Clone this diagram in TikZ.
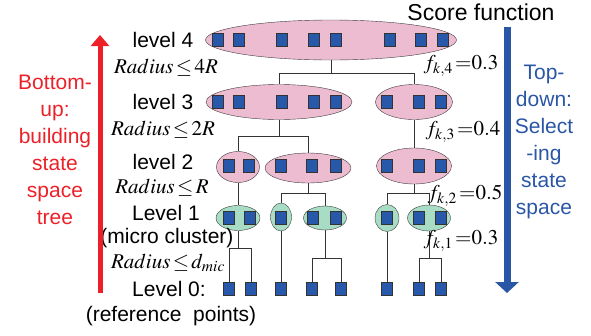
\documentclass[tikz,border=0pt]{standalone}
\usepackage{mathptmx}
\usepackage[no-math]{fontspec}
\setmainfont{Liberation Sans}
\usetikzlibrary{shapes.geometric,patterns,arrows.meta,positioning}

\definecolor{clpink}{RGB}{248,180,192}
\definecolor{clhatch}{RGB}{228,196,224}
\definecolor{clgreen}{RGB}{168,220,196}
\definecolor{ptblue}{RGB}{40,88,170}
\definecolor{upred}{RGB}{237,32,40}
\definecolor{downblue}{RGB}{42,86,166}

\tikzset{
  cluster/.style={ellipse, draw=black!75, inner sep=0pt, preaction={fill=clpink},
    pattern=crosshatch, pattern color=clhatch},
  micro/.style={ellipse, draw=black!75, fill=clgreen, inner sep=0pt},
  datapt/.style={rectangle, draw=black!80, fill=ptblue, minimum width=11pt,
    minimum height=13pt, inner sep=0pt},
  lvl/.style={font=\fontsize{21}{27}\selectfont, inner sep=1pt},
  rad/.style={font=\fontsize{21}{24}\selectfont, inner sep=1pt},
  tree/.style={draw=black!80, line width=0.6pt},
}

\begin{document}
\begin{tikzpicture}[x=1pt, y=-1pt]
  \useasboundingbox (0,0) rectangle (591,335);

  % clusters, level 4 down to level 1
  \node[cluster, minimum width=251pt, minimum height=40pt] (L4) at (331,40) {};
  \node[cluster, minimum width=146pt, minimum height=35pt] (L3a) at (279,102) {};
  \node[cluster, minimum width=77pt, minimum height=35pt] (L3b) at (414,102) {};
  \node[cluster, minimum width=43pt, minimum height=31pt] (L2a) at (238,167) {};
  \node[cluster, minimum width=86pt, minimum height=30pt] (L2b) at (308,168) {};
  \node[cluster, minimum width=75pt, minimum height=36pt] (L2c) at (414,166) {};
  \node[micro, minimum width=44pt, minimum height=25pt] (L1a) at (238,218) {};
  \node[micro, minimum width=21pt, minimum height=28pt] (L1b) at (281,217) {};
  \node[micro, minimum width=43pt, minimum height=24pt] (L1c) at (325,218) {};
  \node[micro, minimum width=24pt, minimum height=27pt] (L1d) at (387,218) {};
  \node[micro, minimum width=43pt, minimum height=26pt] (L1e) at (429,218) {};

  % points inside the clusters
  \foreach \x in {218,239,282,314,336,390,421,443}
    \node[datapt] (s4-\x) at (\x,40) {};
  \foreach \x in {218,239,282,314,336,387,419,441}
    \node[datapt] (s3-\x) at (\x,102) {};
  \foreach \x in {229,249,281,312,336,387,419,441}
    \node[datapt] (s2-\x) at (\x,166) {};
  \foreach \x in {229,250,281,313,336,387,419,441}
    \node[datapt] (s1-\x) at (\x,218) {};
  \foreach \x [count=\i] in {229,251,281,312,341,387,419,441}
    \node[datapt] (p\i) at (\x,289) {};

  % tree
  \draw[tree] (L4.south) -- ++(0,13) coordinate (j4) -| (L3a.north) (j4) -| (L3b.north);
  \draw[tree] (L3a.south) -- ++(0,17) coordinate (j3) -| (L2a.north) (j3) -| (L2b.north);
  \draw[tree] (L3b.south) -- (L2c.north);
  \draw[tree] (L2a.south) -- (L1a.north);
  \draw[tree] (L2b.south) -- ++(0,10) coordinate (j2b) -| (L1b.north) (j2b) -| (L1c.north);
  \draw[tree] (L2c.south) -- ++(0,9) coordinate (j2c) -| (L1d.north) (j2c) -| (L1e.north);
  \draw[tree] (L1a.south) -- ++(0,18) coordinate (j1a) -| (p1.north) (j1a) -| (p2.north);
  \draw[tree] (L1b.south) -- (p3.north);
  \draw[tree] (L1c.south) -- ++(0,28) coordinate (j1c) -| (p4.north) (j1c) -| (p5.north);
  \draw[tree] (L1d.south) -- (p6.north);
  \draw[tree] (L1e.south) -- ++(0,27) coordinate (j1e) -| (p7.north) (j1e) -| (p8.north);

  % level labels
  \node[lvl] (t4) at (163,40) {level 4};
  \node[rad] (r4) at (166,68) {$Radius\!\le\! 4R$};
  \node[lvl] (t3) at (163,102) {level 3};
  \node[rad] (r3) at (163,130) {$Radius\!\le\! 2R$};
  \node[lvl] (t2) at (163,162) {level 2};
  \node[rad] (r2) at (162,188) {$Radius\!\le\! R$};
  \node[lvl] (t1) at (166,213) {Level 1};
  \node[lvl] (tm) at (167,238) {(micro cluster)};
  \node[rad] (r1) at (168,263) {$Radius\!\le\! d_{mic}$};
  \node[lvl] (t0) at (169,289) {Level 0:};
  \node[lvl] (tr) at (171,316) {(reference\ \ points)};

  % score function
  \node[font=\fontsize{23}{26}\selectfont] (sf) at (481,12) {Score function};
  \node[rad] (f4) at (461,66) {$f_{k,4}\,{=}0.3$};
  \node[rad] (f3) at (463,132) {$f_{k,3}\,{=}0.4$};
  \node[rad] (f2) at (465,196) {$f_{k,2}\,{=}0.5$};
  \node[rad] (f1) at (461,241) {$f_{k,1}\,{=}0.3$};

  % directions
  \coordinate (upbot) at (100,293);
  \coordinate (uptop) at (100,35);
  \draw[upred, line width=5pt, -{Triangle[width=18pt,length=11pt]}] (upbot) -- (uptop);
  \node[lvl, text=upred, align=center] (bu) at (55,150)
    {Bottom-\\up:\\building\\state\\space\\tree};
  \coordinate (downtop) at (507,27);
  \coordinate (downbot) at (507,293);
  \draw[downblue, line width=7pt, -{Triangle[width=23pt,length=11pt]}] (downtop) -- (downbot);
  \node[lvl, text=downblue, align=center] (td) at (544,142)
    {Top-\\down:\\Select\\-ing\\state\\space};
\end{tikzpicture}
\end{document}
